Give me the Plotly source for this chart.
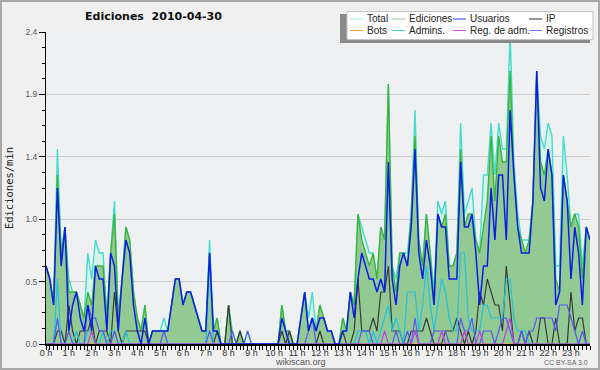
import plotly.graph_objects as go

# ---- data (10-minute steps, edits per minute) ----
minutos = list(range(0, 1440, 10))
horas = list(range(24))
etiquetas_x = [f"{h} h" for h in horas]
y_ticks = [0, 0.48, 0.96, 1.44, 1.92, 2.4]
y_labels = ["0.0", "0.5", "1.0", "1.4", "1.9", "2.4"]

total = [
    0.6, 0.5, 0.3, 1.5, 0.7, 0.9,  0.5, 0.4, 0.4, 0.3, 0.2, 0.7,
    0.5, 0.8, 0.7, 0.7, 0.2, 0.7,  1.1, 0.2, 0.5, 0.9, 0.8, 0.4,
    0.2, 0.1, 0.3, 0.0, 0.1, 0.1,  0.1, 0.2, 0.1, 0.3, 0.5, 0.5,
    0.3, 0.4, 0.4, 0.3, 0.2, 0.1,  0.1, 0.8, 0.1, 0.2, 0.0, 0.0,
    0.3, 0.1, 0.0, 0.1, 0.0, 0.1,  0.0, 0.0, 0.0, 0.0, 0.0, 0.0,
    0.0, 0.0, 0.3, 0.1, 0.1, 0.0,  0.0, 0.2, 0.4, 0.2, 0.4, 0.1,
    0.3, 0.2, 0.1, 0.1, 0.0, 0.0,  0.2, 0.1, 0.4, 0.3, 1.0, 0.9,
    0.8, 0.7, 0.7, 0.5, 0.9, 0.8,  2.0, 0.6, 0.5, 0.7, 0.7, 0.7,
    1.0, 1.8, 0.8, 0.6, 1.0, 0.7,  0.4, 1.1, 1.0, 1.1, 0.6, 0.6,
    0.7, 1.7, 1.0, 1.1, 1.2, 0.8,  0.7, 1.3, 1.3, 1.7, 1.3, 1.7,
    1.5, 1.5, 2.4, 1.4, 1.0, 0.8,  0.8, 0.8, 1.1, 2.1, 1.6, 1.5,
    1.7, 1.6, 0.6, 0.6, 1.6, 1.3,  0.9, 1.0, 1.0, 0.6, 0.9, 0.8,
]
ediciones = [
    0.6, 0.5, 0.3, 1.3, 0.7, 0.9,  0.4, 0.4, 0.4, 0.3, 0.2, 0.4,
    0.3, 0.6, 0.6, 0.6, 0.2, 0.7,  1.0, 0.2, 0.5, 0.9, 0.8, 0.4,
    0.2, 0.1, 0.3, 0.0, 0.1, 0.1,  0.1, 0.1, 0.1, 0.3, 0.5, 0.5,
    0.3, 0.4, 0.4, 0.3, 0.2, 0.1,  0.1, 0.7, 0.1, 0.2, 0.0, 0.0,
    0.3, 0.0, 0.0, 0.1, 0.0, 0.0,  0.0, 0.0, 0.0, 0.0, 0.0, 0.0,
    0.0, 0.0, 0.3, 0.1, 0.1, 0.0,  0.0, 0.2, 0.4, 0.1, 0.2, 0.1,
    0.3, 0.2, 0.1, 0.1, 0.0, 0.0,  0.2, 0.1, 0.4, 0.3, 1.0, 0.8,
    0.7, 0.6, 0.7, 0.5, 0.9, 0.8,  2.0, 0.6, 0.4, 0.7, 0.7, 0.6,
    1.0, 1.6, 0.8, 0.6, 1.0, 0.7,  0.3, 1.0, 0.9, 1.0, 0.6, 0.6,
    0.7, 1.5, 0.9, 1.0, 1.0, 0.8,  0.7, 0.9, 1.1, 1.6, 1.1, 1.6,
    1.4, 1.4, 2.1, 1.3, 0.9, 0.8,  0.7, 0.8, 1.1, 2.1, 1.4, 1.3,
    1.5, 1.3, 0.5, 0.4, 1.3, 1.1,  0.9, 1.0, 0.9, 0.5, 0.9, 0.8,
]
usuarios = [
    0.6, 0.5, 0.3, 1.2, 0.6, 0.9,  0.1, 0.3, 0.4, 0.2, 0.1, 0.3,
    0.1, 0.6, 0.5, 0.5, 0.1, 0.7,  0.6, 0.1, 0.5, 0.8, 0.7, 0.3,
    0.1, 0.0, 0.2, 0.0, 0.1, 0.1,  0.1, 0.1, 0.1, 0.3, 0.5, 0.5,
    0.3, 0.4, 0.4, 0.3, 0.2, 0.1,  0.1, 0.7, 0.1, 0.1, 0.0, 0.0,
    0.0, 0.0, 0.0, 0.0, 0.0, 0.0,  0.0, 0.0, 0.0, 0.0, 0.0, 0.0,
    0.0, 0.0, 0.2, 0.1, 0.0, 0.0,  0.0, 0.2, 0.4, 0.1, 0.2, 0.1,
    0.2, 0.2, 0.1, 0.1, 0.0, 0.0,  0.1, 0.1, 0.4, 0.2, 0.5, 0.7,
    0.6, 0.5, 0.5, 0.4, 0.5, 0.4,  1.4, 0.5, 0.3, 0.6, 0.7, 0.6,
    0.9, 1.5, 0.7, 0.5, 0.8, 0.6,  0.3, 1.0, 0.9, 0.9, 0.5, 0.5,
    0.5, 1.4, 0.9, 0.9, 1.0, 0.7,  0.3, 0.6, 0.6, 1.2, 0.8, 1.3,
    1.3, 0.8, 1.8, 1.3, 0.9, 0.7,  0.7, 0.7, 1.1, 2.1, 1.2, 1.1,
    1.5, 1.3, 0.3, 0.4, 1.3, 1.1,  0.5, 0.9, 0.7, 0.3, 0.9, 0.8,
]
ip = [
    0.0, 0.0, 0.0, 0.1, 0.1, 0.0,  0.3, 0.1, 0.0, 0.1, 0.1, 0.1,
    0.2, 0.0, 0.1, 0.1, 0.1, 0.0,  0.4, 0.1, 0.0, 0.1, 0.1, 0.1,
    0.1, 0.1, 0.1, 0.0, 0.0, 0.0,  0.0, 0.0, 0.0, 0.0, 0.0, 0.0,
    0.0, 0.0, 0.0, 0.0, 0.0, 0.0,  0.0, 0.0, 0.0, 0.1, 0.0, 0.0,
    0.3, 0.0, 0.0, 0.1, 0.0, 0.0,  0.0, 0.0, 0.0, 0.0, 0.0, 0.0,
    0.0, 0.0, 0.1, 0.0, 0.1, 0.0,  0.0, 0.0, 0.0, 0.0, 0.0, 0.0,
    0.1, 0.0, 0.0, 0.0, 0.0, 0.0,  0.1, 0.0, 0.0, 0.1, 0.5, 0.1,
    0.1, 0.1, 0.2, 0.1, 0.4, 0.4,  0.6, 0.1, 0.1, 0.1, 0.0, 0.0,
    0.1, 0.1, 0.1, 0.1, 0.2, 0.1,  0.0, 0.0, 0.0, 0.1, 0.1, 0.1,
    0.2, 0.1, 0.0, 0.1, 0.0, 0.1,  0.4, 0.3, 0.5, 0.4, 0.3, 0.3,
    0.1, 0.6, 0.3, 0.0, 0.0, 0.1,  0.0, 0.1, 0.0, 0.0, 0.2, 0.2,
    0.0, 0.0, 0.2, 0.0, 0.0, 0.0,  0.4, 0.1, 0.2, 0.2, 0.0, 0.0,
]
bots = [0.0] * 144
admins = [
    0.0, 0.0, 0.0, 0.5, 0.0, 0.0,  0.0, 0.0, 0.1, 0.0, 0.0, 0.1,
    0.1, 0.0, 0.0, 0.1, 0.0, 0.1,  0.1, 0.0, 0.0, 0.1, 0.0, 0.0,
    0.0, 0.0, 0.0, 0.0, 0.0, 0.0,  0.0, 0.0, 0.0, 0.0, 0.0, 0.0,
    0.0, 0.0, 0.0, 0.0, 0.0, 0.0,  0.0, 0.7, 0.0, 0.0, 0.0, 0.0,
    0.0, 0.0, 0.0, 0.0, 0.0, 0.0,  0.0, 0.0, 0.0, 0.0, 0.0, 0.0,
    0.0, 0.0, 0.0, 0.0, 0.0, 0.0,  0.0, 0.0, 0.0, 0.0, 0.0, 0.0,
    0.0, 0.0, 0.0, 0.0, 0.0, 0.0,  0.0, 0.0, 0.0, 0.0, 0.1, 0.1,
    0.1, 0.0, 0.1, 0.0, 0.1, 0.2,  0.3, 0.1, 0.2, 0.1, 0.0, 0.4,
    0.4, 0.4, 0.1, 0.3, 0.6, 0.3,  0.1, 0.3, 0.5, 0.4, 0.2, 0.1,
    0.1, 0.7, 0.7, 0.2, 0.1, 0.1,  0.1, 0.3, 0.3, 0.2, 0.2, 0.2,
    0.2, 0.5, 0.5, 0.2, 0.1, 0.1,  0.1, 0.0, 0.0, 0.0, 0.0, 0.0,
    0.0, 0.0, 0.0, 0.0, 0.0, 0.0,  0.0, 0.0, 0.0, 0.0, 0.0, 0.0,
]
reg_adm = [
    0.0, 0.0, 0.0, 0.0, 0.0, 0.0,  0.0, 0.0, 0.0, 0.0, 0.0, 0.0,
    0.1, 0.0, 0.0, 0.0, 0.0, 0.0,  0.0, 0.0, 0.0, 0.0, 0.0, 0.0,
    0.0, 0.0, 0.0, 0.0, 0.0, 0.0,  0.0, 0.0, 0.0, 0.0, 0.0, 0.0,
    0.0, 0.0, 0.0, 0.0, 0.0, 0.0,  0.0, 0.0, 0.0, 0.0, 0.0, 0.0,
    0.0, 0.0, 0.0, 0.0, 0.0, 0.0,  0.0, 0.0, 0.0, 0.0, 0.0, 0.0,
    0.0, 0.0, 0.0, 0.0, 0.0, 0.0,  0.0, 0.0, 0.0, 0.0, 0.0, 0.0,
    0.0, 0.0, 0.0, 0.0, 0.0, 0.0,  0.0, 0.0, 0.0, 0.0, 0.0, 0.0,
    0.0, 0.0, 0.0, 0.0, 0.0, 0.1,  0.0, 0.0, 0.0, 0.0, 0.0, 0.0,
    0.0, 0.1, 0.0, 0.0, 0.0, 0.0,  0.0, 0.0, 0.1, 0.0, 0.0, 0.0,
    0.0, 0.0, 0.1, 0.0, 0.0, 0.0,  0.1, 0.0, 0.0, 0.0, 0.0, 0.0,
    0.0, 0.1, 0.2, 0.0, 0.0, 0.0,  0.0, 0.0, 0.0, 0.0, 0.0, 0.0,
    0.0, 0.0, 0.0, 0.0, 0.0, 0.0,  0.0, 0.0, 0.0, 0.0, 0.0, 0.0,
]
registros = [
    0.0, 0.0, 0.0, 0.2, 0.0, 0.0,  0.1, 0.0, 0.0, 0.0, 0.0, 0.3,
    0.2, 0.2, 0.1, 0.1, 0.0, 0.0,  0.1, 0.0, 0.0, 0.0, 0.0, 0.0,
    0.0, 0.0, 0.0, 0.0, 0.0, 0.0,  0.0, 0.1, 0.0, 0.0, 0.0, 0.0,
    0.0, 0.0, 0.0, 0.0, 0.0, 0.0,  0.0, 0.1, 0.0, 0.0, 0.0, 0.0,
    0.0, 0.1, 0.0, 0.0, 0.0, 0.1,  0.0, 0.0, 0.0, 0.0, 0.0, 0.0,
    0.0, 0.0, 0.0, 0.0, 0.0, 0.0,  0.0, 0.0, 0.0, 0.1, 0.2, 0.0,
    0.0, 0.0, 0.0, 0.0, 0.0, 0.0,  0.0, 0.0, 0.0, 0.0, 0.0, 0.1,
    0.1, 0.1, 0.0, 0.0, 0.0, 0.0,  0.0, 0.0, 0.1, 0.0, 0.0, 0.1,
    0.0, 0.2, 0.0, 0.0, 0.0, 0.0,  0.1, 0.1, 0.1, 0.1, 0.0, 0.0,
    0.0, 0.2, 0.1, 0.1, 0.2, 0.0,  0.0, 0.1, 0.1, 0.1, 0.0, 0.1,
    0.2, 0.2, 0.1, 0.0, 0.0, 0.1,  0.0, 0.1, 0.1, 0.2, 0.2, 0.2,
    0.2, 0.2, 0.1, 0.3, 0.3, 0.3,  0.2, 0.1, 0.0, 0.1, 0.0, 0.0,
]

# ---- styles ----
W, H = 600, 370
ML, MR, MT, MB = 46, 10, 32, 26
PW, PH = W - ML - MR, H - MT - MB


def px(x):
    return (x - ML) / PW


def py(y):
    return (H - MB - y) / PH


fig = go.Figure()
fig.add_trace(go.Scatter(x=minutos, y=total, name="Total", mode="lines",
                         line=dict(color="#44dccf", width=1.4),
                         fill="tozeroy", fillcolor="#d6f3ec"))
fig.add_trace(go.Scatter(x=minutos, y=ediciones, name="Ediciones", mode="lines",
                         line=dict(color="#3cb43c", width=1.4),
                         fill="tozeroy", fillcolor="#93c993"))
fig.add_trace(go.Scatter(x=minutos, y=bots, name="Bots", mode="lines",
                         line=dict(color="#f0a040", width=1)))
fig.add_trace(go.Scatter(x=minutos, y=ip, name="IP", mode="lines",
                         line=dict(color="#3a3a3a", width=1.2)))
fig.add_trace(go.Scatter(x=minutos, y=admins, name="Admins.", mode="lines",
                         line=dict(color="#22c4dc", width=1.2)))
fig.add_trace(go.Scatter(x=minutos, y=registros, name="Registros", mode="lines",
                         line=dict(color="#5858f2", width=1.2)))
fig.add_trace(go.Scatter(x=minutos, y=reg_adm, name="Reg. de adm.", mode="lines",
                         line=dict(color="#c040e0", width=1.2)))
fig.add_trace(go.Scatter(x=minutos, y=usuarios, name="Usuarios", mode="lines",
                         line=dict(color="#0a1ee6", width=1.5)))

shapes = []
annotations = []

# outer frame
shapes.append(dict(type="rect", xref="paper", yref="paper",
                   x0=px(1), x1=px(599), y0=py(369), y1=py(1),
                   line=dict(color="#a8a8a8", width=2), fillcolor="rgba(0,0,0,0)",
                   layer="above"))

# legend box with shadow
shapes.append(dict(type="rect", xref="paper", yref="paper",
                   x0=px(340), x1=px(590), y0=py(43), y1=py(14),
                   line=dict(width=0), fillcolor="#8a8a8a", layer="above"))
shapes.append(dict(type="rect", xref="paper", yref="paper",
                   x0=px(347), x1=px(593), y0=py(39.5), y1=py(11.5),
                   line=dict(color="#c4c4c4", width=1), fillcolor="#ffffff",
                   layer="above"))

legend_items = [
    ("Total", "#a6e8e0", 350, 19), ("Ediciones", "#8ed08e", 392, 19),
    ("Usuarios", "#3434e8", 453, 19), ("IP", "#333333", 529, 19),
    ("Bots", "#f0a040", 350, 30.5), ("Admins.", "#48cce0", 392, 30.5),
    ("Reg. de adm.", "#d050e8", 453, 30.5), ("Registros", "#7474f0", 529, 30.5),
]
for name, color, x0, yy in legend_items:
    shapes.append(dict(type="line", xref="paper", yref="paper",
                       x0=px(x0), x1=px(x0 + 13), y0=py(yy), y1=py(yy),
                       line=dict(color=color, width=1), layer="above"))
    annotations.append(dict(text=name, xref="paper", yref="paper",
                            x=px(x0 + 16), y=py(yy), xanchor="left", yanchor="middle",
                            showarrow=False, borderpad=0,
                            font=dict(family="Liberation Sans", size=10, color="#222")))

annotations.append(dict(text="wikiscan.org", xref="paper", yref="paper",
                        x=px(300), y=py(362), xanchor="center", yanchor="middle",
                        showarrow=False,
                        font=dict(family="Liberation Sans", size=9, color="#555")))
annotations.append(dict(text="CC BY-SA 3.0", xref="paper", yref="paper",
                        x=px(590), y=py(362.5), xanchor="right", yanchor="middle",
                        showarrow=False,
                        font=dict(family="Liberation Sans", size=7, color="#666")))

fig.update_layout(
    width=W, height=H,
    margin=dict(l=ML, r=MR, t=MT, b=MB, autoexpand=False),
    paper_bgcolor="#f0f0f0",
    plot_bgcolor="#eff0f2",
    showlegend=False,
    title=dict(text="Ediciones \u00a02010-04-30", x=153.5 / W, xanchor="center",
               y=1 - 16.5 / H, yanchor="middle", xref="container", yref="container",
               font=dict(family="DejaVu Sans", size=11, color="#111", weight="bold")),
    shapes=shapes,
    annotations=annotations,
)

fig.update_xaxes(
    range=[0, 1430], tickmode="array", automargin=False,
    tickvals=[h * 60 for h in horas], ticktext=etiquetas_x,
    ticks="outside", ticklen=4, tickcolor="#000", tickwidth=1,
    ticklabelstandoff=-5,
    minor=dict(tickmode="linear", tick0=0, dtick=10, ticks="outside",
               ticklen=4, tickcolor="#000", tickwidth=1, showgrid=False),
    showgrid=False, zeroline=False,
    showline=True, linecolor="#000", linewidth=2,
    tickfont=dict(family="Liberation Sans", size=9, color="#333"),
)
fig.update_yaxes(
    range=[0, 2.4], tickmode="array", tickvals=y_ticks, ticktext=y_labels,
    automargin=False,
    ticks="outside", ticklen=6, tickcolor="#000", tickwidth=1,
    minor=dict(tickmode="linear", tick0=0, dtick=0.12, ticks="outside",
               ticklen=3, tickcolor="#000", tickwidth=1, showgrid=False),
    showgrid=True, gridcolor="#cbcbcb", gridwidth=1, zeroline=False,
    showline=True, linecolor="#000", linewidth=1,
    tickfont=dict(family="Liberation Sans", size=8.5, color="#555"),
    title=dict(text="Ediciones/min", standoff=9,
               font=dict(family="DejaVu Sans Mono", size=10.5, color="#222")),
)

fig.write_html("out.html",
               config={"displayModeBar": False, "staticPlot": True},
               post_script="document.body.style.margin='0';document.body.style.overflow='hidden';")
